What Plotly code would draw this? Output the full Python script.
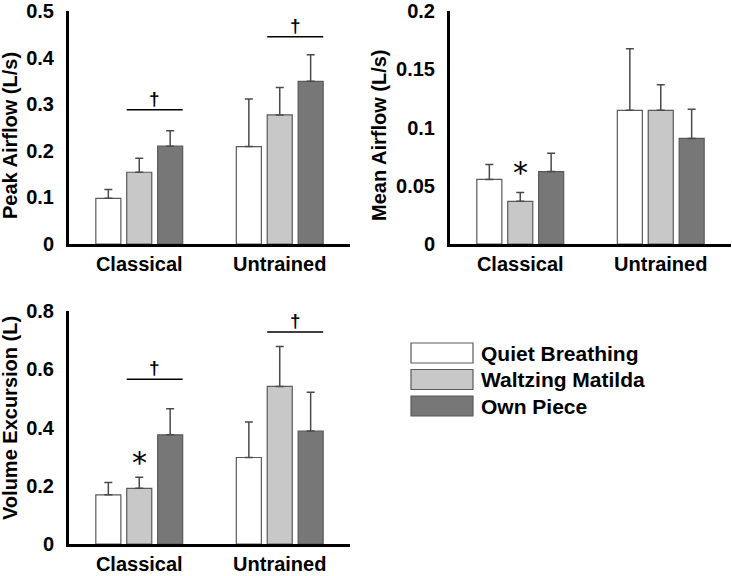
import plotly.graph_objects as go

W, H = 732, 576

groups = ["Classical", "Untrained"]
conditions = ["Quiet Breathing", "Waltzing Matilda", "Own Piece"]
fills = ["#ffffff", "#c8c8c8", "#777777"]

# Peak airflow (L/s)
peak_qb = [0.098, 0.209]
peak_wm = [0.154, 0.277]
peak_op = [0.210, 0.349]
peak_qb_err = [0.019, 0.102]
peak_wm_err = [0.030, 0.059]
peak_op_err = [0.033, 0.057]

# Mean airflow (L/s)
mean_qb = [0.0554, 0.1147]
mean_wm = [0.0366, 0.1147]
mean_op = [0.0622, 0.0906]
mean_qb_err = [0.0128, 0.053]
mean_wm_err = [0.0077, 0.022]
mean_op_err = [0.0156, 0.025]

# Volume excursion (L)
vol_qb = [0.169, 0.297]
vol_wm = [0.191, 0.541]
vol_op = [0.375, 0.388]
vol_qb_err = [0.042, 0.122]
vol_wm_err = [0.038, 0.137]
vol_op_err = [0.089, 0.133]

# significance markers
peak_dagger_y = [0.288, 0.445]
vol_dagger_y = [0.566, 0.728]
mean_star_y = 0.067
vol_star_y = 0.305

BARGAP = 0.34
GROUPGAP = 0.19
slot = (1 - BARGAP) / 3
bw = slot * (1 - GROUPGAP)

FONT = "Liberation Sans, Arial, sans-serif"

panels = [
    dict(ax="", vals=[peak_qb, peak_wm, peak_op], errs=[peak_qb_err, peak_wm_err, peak_op_err],
         rng=[0, 0.5], dtick=0.1, xd=[69, 350], yd=[11, 244], title="Peak Airflow (L/s)",
         tx=10, ty=136),
    dict(ax="2", vals=[mean_qb, mean_wm, mean_op], errs=[mean_qb_err, mean_wm_err, mean_op_err],
         rng=[0, 0.2], dtick=0.05, xd=[450, 731], yd=[11, 244], title="Mean Airflow (L/s)",
         tx=379, ty=136),
    dict(ax="3", vals=[vol_qb, vol_wm, vol_op], errs=[vol_qb_err, vol_wm_err, vol_op_err],
         rng=[0, 0.8], dtick=0.2, xd=[69, 350], yd=[311, 544], title="Volume Excursion (L)",
         tx=10, ty=418),
]

fig = go.Figure()
annotations = []
shapes = []

for p in panels:
    xa, ya = "x" + p["ax"], "y" + p["ax"]
    for i, cond in enumerate(conditions):
        fig.add_trace(go.Bar(
            x=groups, y=p["vals"][i], name=cond, xaxis=xa, yaxis=ya,
            marker=dict(color=fills[i], line=dict(color="#5a5a5a", width=1.2)),
            error_y=dict(type="data", array=p["errs"][i], arrayminus=[0, 0], symmetric=False,
                         color="#4a4a4a", thickness=1.5, width=4),
            showlegend=False,
        ))
    lay_x = "xaxis" + p["ax"]
    lay_y = "yaxis" + p["ax"]
    fig.update_layout(**{
        lay_x: dict(domain=[p["xd"][0] / W, p["xd"][1] / W], anchor=ya, range=[-0.5, 1.5],
                    showline=True, linecolor="black", linewidth=3, showgrid=False,
                    ticks="", automargin=False, ticklabeloverflow="allow",
                    tickfont=dict(family=FONT, size=20, color="black", weight="bold")),
        lay_y: dict(domain=[1 - p["yd"][1] / H, 1 - p["yd"][0] / H], anchor=xa, range=p["rng"],
                    dtick=p["dtick"], showline=True, linecolor="black", linewidth=3,
                    showgrid=False, zeroline=False, automargin=False, ticklabeloverflow="allow",
                    ticks="outside", ticklen=8, tickcolor="rgba(0,0,0,0)",
                    tickfont=dict(family=FONT, size=20, color="black", weight="bold")),
    })
    annotations.append(dict(
        text=p["title"], x=p["tx"] / W, y=1 - p["ty"] / H, xref="paper", yref="paper",
        textangle=-90, showarrow=False, xanchor="center", yanchor="middle",
        font=dict(family=FONT, size=20, color="black", weight="bold"),
    ))

# dagger brackets spanning Waltzing Matilda to Own Piece
for ax, ys in [("", peak_dagger_y), ("3", vol_dagger_y)]:
    for gi, yv in enumerate(ys):
        x0 = gi - bw / 2
        x1 = gi + slot + bw / 2
        shapes.append(dict(type="line", xref="x" + ax, yref="y" + ax, x0=x0, x1=x1, y0=yv, y1=yv,
                           line=dict(color="black", width=1.5)))
        annotations.append(dict(text="†", x=(x0 + x1) / 2, y=yv, xref="x" + ax, yref="y" + ax,
                                showarrow=False, yanchor="bottom", yshift=-1,
                                font=dict(family=FONT, size=19, color="black", weight="bold")))

# asterisks over Classical / Waltzing Matilda
for ax, yv in [("2", mean_star_y), ("3", vol_star_y)]:
    annotations.append(dict(text="*", x=0, y=yv, xref="x" + ax, yref="y" + ax,
                            showarrow=False, yanchor="middle", yshift=-7,
                            font=dict(family="DejaVu Sans, sans-serif", size=30, color="black")))

# legend drawn as wide boxes
leg_top = [343, 369.5, 396]
for i, cond in enumerate(conditions):
    y0 = leg_top[i]
    shapes.append(dict(type="rect", xref="paper", yref="paper",
                       x0=411 / W, x1=473 / W, y0=1 - (y0 + 20) / H, y1=1 - y0 / H,
                       fillcolor=fills[i], line=dict(color="#5a5a5a", width=1.2)))
    annotations.append(dict(text=cond, x=479 / W, y=1 - (y0 + 10) / H, xref="paper", yref="paper",
                            showarrow=False, xanchor="left", yanchor="middle",
                            font=dict(family=FONT, size=21, color="black", weight="bold")))

fig.update_layout(
    width=W, height=H, margin=dict(l=0, r=0, t=0, b=0, autoexpand=False),
    paper_bgcolor="white", plot_bgcolor="white",
    barmode="group", bargap=BARGAP, bargroupgap=GROUPGAP,
    annotations=annotations, shapes=shapes, showlegend=False,
)

fig.write_html("out.html", config={"displayModeBar": False},
               post_script="document.body.style.margin = '0px';")
